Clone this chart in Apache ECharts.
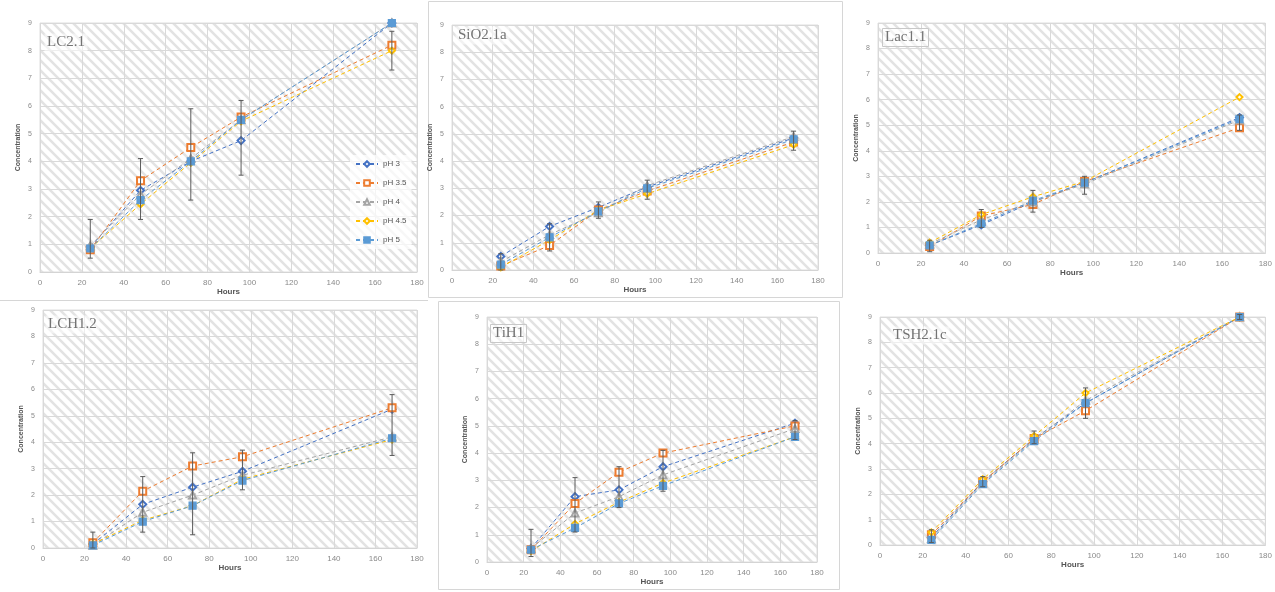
<!DOCTYPE html>
<html><head><meta charset="utf-8">
<script src="https://cdn.jsdelivr.net/npm/echarts@6/dist/echarts.min.js"></script>
<style>html,body{margin:0;padding:0;background:#fff}#c{width:1275px;height:592px}</style>
</head><body><div id="c"></div>
<script>
// ---- data ----
const hours = [24, 48, 72, 96, 168];
const seriesNames = ['pH 3', 'pH 3.5', 'pH 4', 'pH 4.5', 'pH 5'];
const panelTitles = ['LC2.1', 'SiO2.1a', 'Lac1.1', 'LCH1.2', 'TiH1', 'TSH2.1c'];
const xTicks = [0, 20, 40, 60, 80, 100, 120, 140, 160, 180];
const yTicks = [0, 1, 2, 3, 4, 5, 6, 7, 8, 9];

const valuesLC21 = [
  [0.9, 2.95, 4.0, 4.75, 9.0],
  [0.8, 3.3, 4.5, 5.6, 8.2],
  [0.95, 2.8, 4.1, 5.5, 9.0],
  [0.85, 2.45, 3.95, 5.45, 8.0],
  [0.85, 2.6, 4.0, 5.5, 9.0]
];
const errLC21Low = [0.5, 1.9, 2.6, 3.5, 7.3];
const errLC21High = [1.9, 4.1, 5.9, 6.2, 8.7];

const valuesSiO21a = [
  [0.5, 1.6, 2.3, 3.05, 4.85],
  [0.15, 0.9, 2.2, 2.9, 4.7],
  [0.3, 1.3, 2.1, 3.1, 4.9],
  [0.1, 1.1, 2.2, 2.8, 4.6],
  [0.2, 1.2, 2.15, 3.0, 4.8]
];
const errSiO21aLow = [0.0, 0.7, 1.9, 2.6, 4.4];
const errSiO21aHigh = [0.6, 1.7, 2.5, 3.3, 5.1];

const valuesLac11 = [
  [0.3, 1.1, 2.0, 2.75, 5.3],
  [0.25, 1.45, 1.9, 2.8, 4.9],
  [0.35, 1.3, 2.0, 2.7, 5.2],
  [0.4, 1.5, 2.2, 2.8, 6.1],
  [0.3, 1.15, 2.05, 2.75, 5.25]
];
const errLac11Low = [0.05, 1.0, 1.6, 2.3, 4.8];
const errLac11High = [0.5, 1.7, 2.45, 3.0, 5.4];

const valuesLCH12 = [
  [0.15, 1.65, 2.3, 2.9, 5.25],
  [0.2, 2.15, 3.1, 3.45, 5.3],
  [0.1, 1.35, 2.0, 2.75, 4.2],
  [0.15, 1.05, 1.6, 2.6, 4.1],
  [0.1, 1.0, 1.6, 2.55, 4.15]
];
const errLCH12Low = [0.0, 0.6, 0.5, 2.2, 3.5];
const errLCH12High = [0.6, 2.7, 3.6, 3.7, 5.8];

const valuesTiH1 = [
  [0.5, 2.4, 2.65, 3.5, 5.1],
  [0.45, 2.15, 3.3, 4.0, 5.0],
  [0.5, 1.8, 2.4, 3.2, 4.9],
  [0.4, 1.4, 2.2, 2.9, 4.6],
  [0.45, 1.25, 2.15, 2.8, 4.6]
];
const errTiH1Low = [0.2, 1.1, 2.0, 2.6, 4.5];
const errTiH1High = [1.2, 3.1, 3.5, 4.1, 5.2];

const valuesTSH21c = [
  [0.3, 2.5, 4.2, 5.6, 9.0],
  [0.4, 2.5, 4.2, 5.3, 9.0],
  [0.25, 2.45, 4.15, 5.7, 9.0],
  [0.5, 2.6, 4.3, 6.0, 9.0],
  [0.2, 2.4, 4.1, 5.6, 9.0]
];
const errTSH21cLow = [0.1, 2.3, 4.0, 5.0, 8.9];
const errTSH21cHigh = [0.6, 2.7, 4.5, 6.2, 9.1];

// ---- styling ----
const colors = ['#4472C4', '#ED7D31', '#A5A5A5', '#FFC000', '#5B9BD5'];
const symbols = ['emptyDiamond', 'emptyRect', 'emptyTriangle', 'emptyDiamond', 'rect'];
const panels = [
  {vals: valuesLC21, lo: errLC21Low, hi: errLC21High, grid: {left: 40, top: 23, width: 377, height: 249}, tx: 44, ty: 33, box: false},
  {vals: valuesSiO21a, lo: errSiO21aLow, hi: errSiO21aHigh, grid: {left: 452, top: 25, width: 366, height: 245}, tx: 455, ty: 26, box: false},
  {vals: valuesLac11, lo: errLac11Low, hi: errLac11High, grid: {left: 878, top: 23, width: 390, height: 230}, tx: 882, ty: 28, box: true},
  {vals: valuesLCH12, lo: errLCH12Low, hi: errLCH12High, grid: {left: 43, top: 310, width: 374, height: 238}, tx: 45, ty: 315, box: false},
  {vals: valuesTiH1, lo: errTiH1Low, hi: errTiH1High, grid: {left: 487, top: 317, width: 330, height: 245}, tx: 490, ty: 324, box: true},
  {vals: valuesTSH21c, lo: errTSH21cLow, hi: errTSH21cHigh, grid: {left: 880, top: 317, width: 390, height: 228}, tx: 890, ty: 326, box: false}
];

function makeHatch() {
  const n = 10;
  const c = document.createElement('canvas');
  c.width = n; c.height = n;
  const g = c.getContext('2d');
  g.fillStyle = '#ffffff'; g.fillRect(0, 0, n, n);
  g.strokeStyle = '#e3e3e3'; g.lineWidth = 2.6;
  g.beginPath();
  g.moveTo(-2, -2); g.lineTo(n + 2, n + 2);
  g.moveTo(-n / 2 - 2, n / 2 - 2); g.lineTo(n / 2 + 2, 3 * n / 2 + 2);
  g.moveTo(n / 2 - 2, -n / 2 - 2); g.lineTo(3 * n / 2 + 2, n / 2 + 2);
  g.stroke();
  return c;
}
const hatch = makeHatch();

const grids = [], xAxes = [], yAxes = [], series = [], titles = [];
panels.forEach((p, i) => {
  grids.push(Object.assign({show: true, backgroundColor: {image: hatch, repeat: 'repeat'}, borderColor: '#dedede', borderWidth: 1}, p.grid));
  xAxes.push({
    type: 'value', gridIndex: i, min: xTicks[0], max: xTicks[xTicks.length - 1], interval: xTicks[1] - xTicks[0],
    name: 'Hours', nameLocation: 'middle', nameGap: 16,
    nameTextStyle: {fontSize: 8, color: '#555', fontFamily: 'Liberation Sans', fontWeight: 'bold'},
    axisLine: {show: true, lineStyle: {color: '#d4d4d4'}}, axisTick: {show: false},
    axisLabel: {fontSize: 8, color: '#8a8a8a', margin: 7, fontFamily: 'Liberation Sans'},
    splitLine: {show: true, lineStyle: {color: '#d9d9d9', width: 1}}
  });
  yAxes.push({
    type: 'value', gridIndex: i, min: yTicks[0], max: yTicks[yTicks.length - 1], interval: 1,
    name: 'Concentration', nameLocation: 'middle', nameGap: 18,
    nameTextStyle: {fontSize: 7, color: '#555', fontFamily: 'Liberation Sans', fontWeight: 'bold'},
    axisLine: {show: false}, axisTick: {show: false},
    axisLabel: {fontSize: 7, color: '#8a8a8a', margin: 8, fontFamily: 'Liberation Sans'},
    splitLine: {show: true, lineStyle: {color: '#d9d9d9', width: 1}}
  });
  titles.push({
    text: panelTitles[i], left: p.tx, top: p.ty, padding: [2, 3],
    borderColor: p.box ? '#c8c8c8' : 'transparent', borderWidth: 1,
    backgroundColor: 'rgba(255,255,255,0.55)',
    textStyle: {fontSize: 15, fontWeight: 'normal', color: '#737373', fontFamily: 'Liberation Serif'}
  });
  p.vals.forEach((vals, s) => {
    series.push({
      type: 'line', name: seriesNames[s], xAxisIndex: i, yAxisIndex: i,
      data: hours.map((h, k) => [h, vals[k]]),
      symbol: symbols[s], symbolSize: s === 3 ? 6 : 7,
      lineStyle: {color: colors[s], width: 1, type: [4, 3]},
      itemStyle: {color: colors[s], borderColor: colors[s], borderWidth: 1.2},
      z: 3
    });
  });
  series.push({
    type: 'custom', name: 'error', xAxisIndex: i, yAxisIndex: i,
    data: hours.map((h, k) => [h, p.lo[k], p.hi[k]]),
    encode: {x: 0, y: [1, 2]},
    z: 4,
    renderItem: function (params, api) {
      const x = api.value(0);
      const a = api.coord([x, api.value(1)]);
      const b = api.coord([x, api.value(2)]);
      const w = 2.5;
      const st = {stroke: '#5a5a5a', lineWidth: 1};
      return {type: 'group', children: [
        {type: 'line', shape: {x1: a[0], y1: a[1], x2: b[0], y2: b[1]}, style: st},
        {type: 'line', shape: {x1: a[0] - w, y1: a[1], x2: a[0] + w, y2: a[1]}, style: st},
        {type: 'line', shape: {x1: b[0] - w, y1: b[1], x2: b[0] + w, y2: b[1]}, style: st}
      ]};
    }
  });
});

const chart = echarts.init(document.getElementById('c'), null, {renderer: 'canvas'});
chart.setOption({
  backgroundColor: '#ffffff',
  animation: false,
  title: titles,
  grid: grids, xAxis: xAxes, yAxis: yAxes, series: series,
  legend: {
    data: seriesNames, orient: 'vertical', left: 350, top: 155, itemGap: 11,
    itemWidth: 22, itemHeight: 7, backgroundColor: 'rgba(255,255,255,0.7)',
    textStyle: {fontSize: 8, color: '#555', fontFamily: 'Liberation Sans'}
  },
  graphic: [
    {type: 'rect', shape: {x: 428.5, y: 1.5, width: 414, height: 296}, style: {fill: 'none', stroke: '#d6d6d6', lineWidth: 1}, silent: true},
    {type: 'rect', shape: {x: 438.5, y: 301.5, width: 401, height: 288}, style: {fill: 'none', stroke: '#d6d6d6', lineWidth: 1}, silent: true},
    {type: 'line', shape: {x1: 0, y1: 300.5, x2: 428, y2: 300.5}, style: {stroke: '#d6d6d6', lineWidth: 1}, silent: true}
  ]
});
</script></body></html>
